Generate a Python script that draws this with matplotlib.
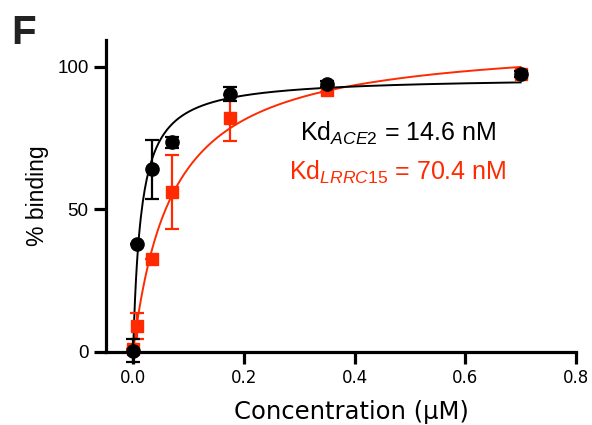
import numpy as np
import matplotlib
matplotlib.use("Agg")
import matplotlib.pyplot as plt

plt.rcParams["mathtext.fontset"] = "custom"
plt.rcParams["mathtext.rm"] = "Liberation Sans"
plt.rcParams["mathtext.it"] = "Liberation Sans:italic"
plt.rcParams["mathtext.bf"] = "Liberation Sans:bold"

# Data (concentration in µM, % binding)
conc = [0.0, 0.007, 0.035, 0.07, 0.175, 0.35, 0.70]
ace2_mean = [0.5, 38.0, 64.0, 73.5, 90.5, 94.0, 97.5]
ace2_err = [4.0, 0.0, 10.5, 2.0, 2.5, 1.0, 1.0]
lrrc15_mean = [1.0, 9.0, 32.5, 56.0, 82.0, 92.0, 97.5]
lrrc15_err = [0.0, 4.5, 0.0, 13.0, 8.0, 1.0, 1.0]

# One-site binding fit parameters
kd_ace2 = 0.0146   # µM
bmax_ace2 = 96.5
kd_lrrc15 = 0.0704  # µM
bmax_lrrc15 = 110.0

xticks = [0.0, 0.2, 0.4, 0.6, 0.8]
yticks = [0, 50, 100]

black = "#000000"
red = "#FF2A00"

fig = plt.figure(figsize=(5.92, 4.25), dpi=100)
ax = fig.add_axes([0.179, 0.1718, 0.794, 0.7341])

xfit = np.linspace(0, max(conc), 400)
ax.plot(xfit, bmax_lrrc15 * xfit / (kd_lrrc15 + xfit), color=red, lw=1.4, zorder=2)
ax.plot(xfit, bmax_ace2 * xfit / (kd_ace2 + xfit), color=black, lw=1.4, zorder=3)

ax.errorbar(conc, lrrc15_mean, yerr=lrrc15_err, fmt="s", color=red, ms=9,
            capsize=5, elinewidth=1.6, capthick=1.6, clip_on=False, zorder=4)
ax.errorbar(conc, ace2_mean, yerr=ace2_err, fmt="o", color=black, ms=9.5,
            capsize=5, elinewidth=1.6, capthick=1.6, clip_on=False, zorder=5)

ax.set_xlim(-0.049, 0.8)
ax.set_ylim(0, 109.4)
ax.set_xticks(xticks)
ax.set_xticklabels([f"{t:.1f}" for t in xticks], fontsize=12, family="DejaVu Sans")
ax.set_yticks(yticks)
ax.set_yticklabels([str(t) for t in yticks], fontsize=13.5, family="Liberation Sans")
for s in ["top", "right"]:
    ax.spines[s].set_visible(False)
for s in ["left", "bottom"]:
    ax.spines[s].set_linewidth(2.3)
ax.tick_params(axis="both", direction="out", length=8.5, width=2.3, pad=4)

ax.set_xlabel("Concentration (µM)", fontsize=17.5, family="DejaVu Sans")
ax.xaxis.set_label_coords(0.523, -0.155)
ax.set_ylabel("% binding", fontsize=16.5, family="Liberation Sans", labelpad=6)

ax.text(0.302, 74.0, r"Kd$_{\mathit{ACE2}}$ = 14.6 nM", fontsize=18, color=black,
        family="Liberation Sans", ha="left", va="baseline")
ax.text(0.282, 60.5, r"Kd$_{\mathit{LRRC15}}$ = 70.4 nM", fontsize=18, color=red,
        family="Liberation Sans", ha="left", va="baseline")

fig.text(0.019, 0.968, "F", fontsize=29, fontweight="bold", family="Liberation Sans",
         color="#222222", ha="left", va="top")

fig.savefig("out.png", dpi=100)
